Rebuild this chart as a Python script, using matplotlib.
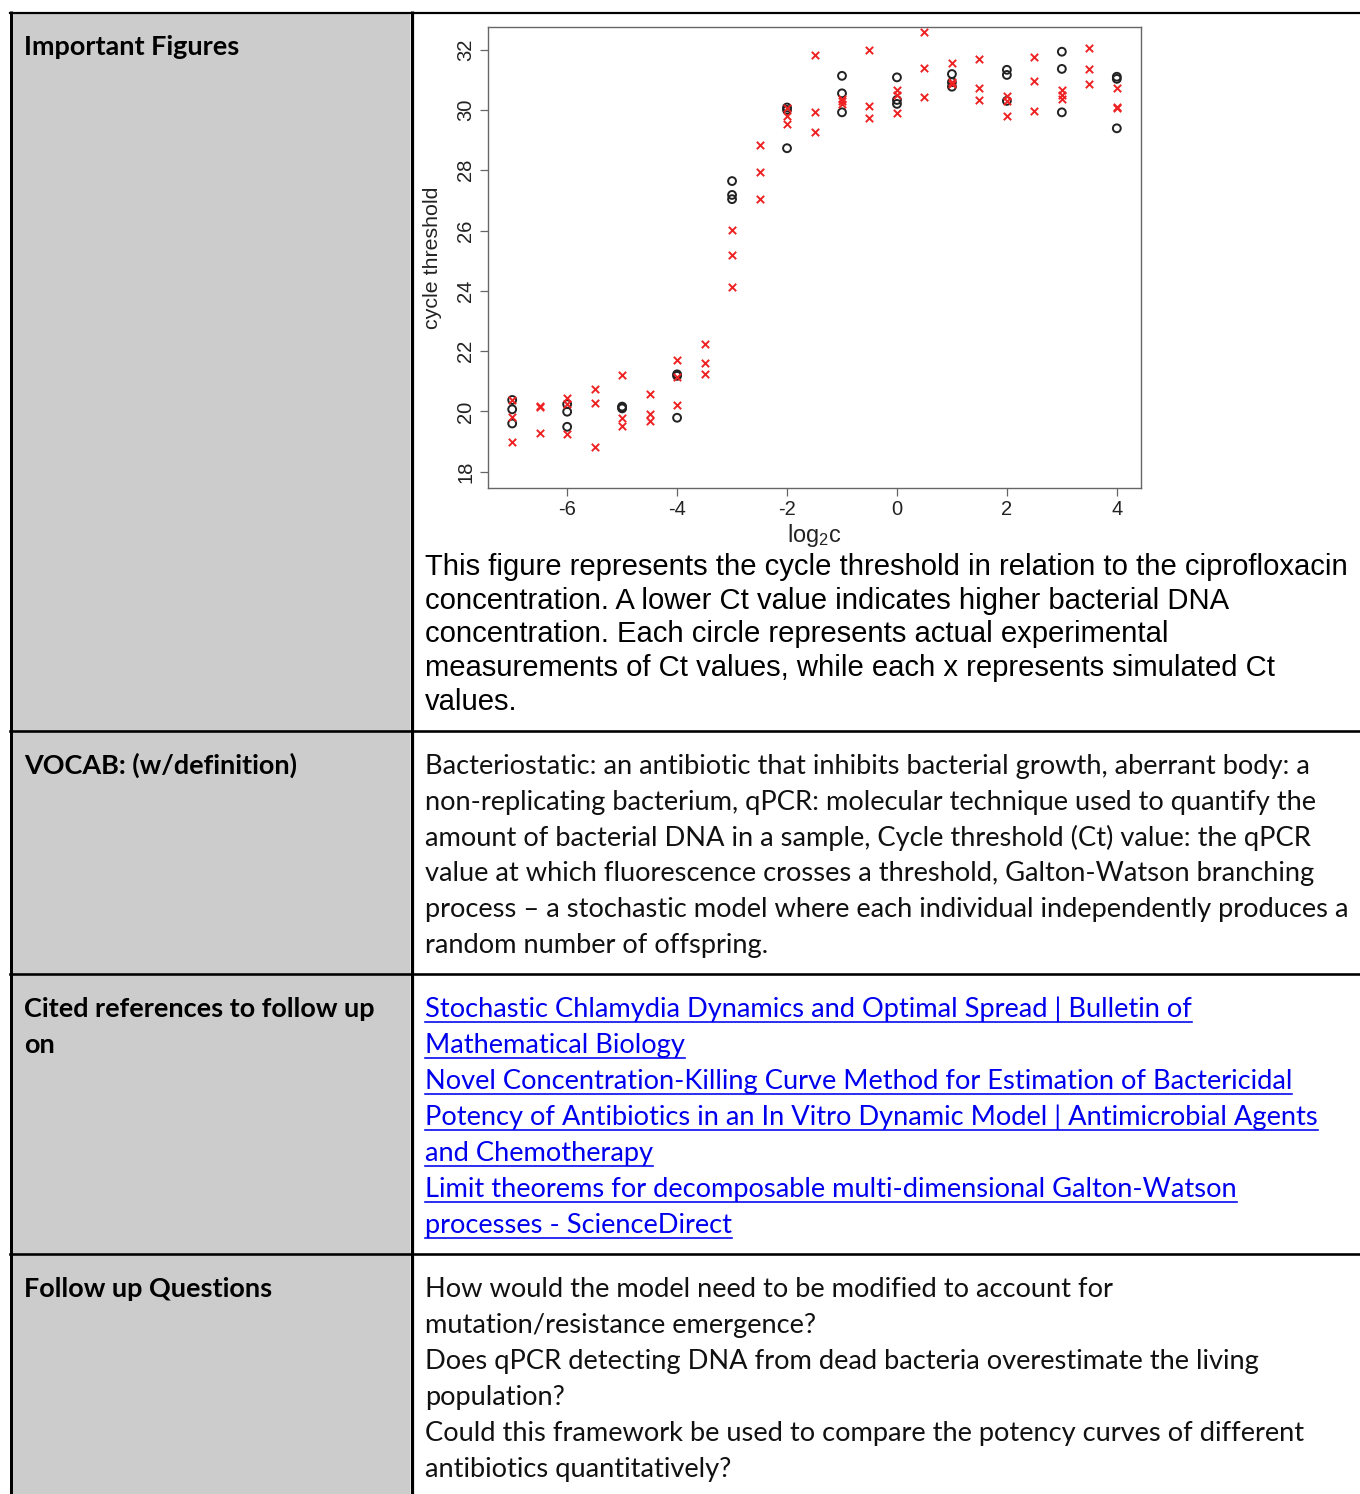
import matplotlib
matplotlib.use("Agg")
import matplotlib.pyplot as plt
from matplotlib.patches import Rectangle

# ---------------- data ----------------
obs_log2c = [-7, -7, -7, -6, -6, -6, -5, -5, -5, -4, -4, -4,
             -3, -3, -3, -2, -2, -2, -1, -1, -1, 0, 0, 0,
             1, 1, 1, 2, 2, 2, 3, 3, 3, 4, 4, 4]
obs_ct = [20.38, 20.07, 19.60, 20.24, 19.99, 19.49, 20.13, 20.10, 20.16,
          21.23, 21.18, 19.79, 27.64, 27.18, 27.04, 30.08, 30.00, 28.73,
          31.13, 30.55, 29.92, 31.08, 30.33, 30.20, 31.19, 30.92, 30.77,
          31.33, 31.16, 30.30, 31.93, 31.36, 29.92, 31.10, 31.03, 29.39]

sim_log2c = [-7, -7, -7, -6.5, -6.5, -6.5, -6, -6, -6, -5.5, -5.5, -5.5,
             -5, -5, -5, -4.5, -4.5, -4.5, -4, -4, -4, -3.5, -3.5, -3.5,
             -3, -3, -3, -2.5, -2.5, -2.5, -2, -2, -2, -1.5, -1.5, -1.5,
             -1, -1, -1, -0.5, -0.5, -0.5, 0, 0, 0, 0.5, 0.5, 0.5,
             1, 1, 1, 1.5, 1.5, 1.5, 2, 2, 2, 2.5, 2.5, 2.5,
             3, 3, 3, 3.5, 3.5, 3.5, 4, 4, 4]
sim_ct = [20.38, 19.80, 18.99, 20.18, 20.15, 19.29, 20.43, 20.24, 19.24,
          20.73, 20.27, 18.83, 21.21, 19.77, 19.52, 20.58, 19.91, 19.69,
          21.70, 21.13, 20.21, 22.24, 21.60, 21.23, 26.02, 25.18, 24.14,
          28.83, 27.94, 27.06, 30.05, 29.81, 29.52, 31.82, 29.94, 29.26,
          30.36, 30.28, 30.19, 31.99, 30.14, 29.72, 30.65, 30.50, 29.89,
          32.58, 31.38, 30.44, 31.55, 30.92, 30.85, 31.68, 30.74, 30.33,
          30.47, 30.30, 29.80, 31.75, 30.97, 29.97, 30.66, 30.50, 30.36,
          32.05, 31.36, 30.85, 30.74, 30.11, 30.08]

x_ticks = [-6, -4, -2, 0, 2, 4]
y_ticks = [18, 20, 22, 24, 26, 28, 30, 32]

row_labels = [["Important Figures"],
              ["VOCAB: (w/definition)"],
              ["Cited references to follow up", "on"],
              ["Follow up Questions"]]

caption_lines = [
    "This figure represents the cycle threshold in relation to the ciprofloxacin",
    "concentration. A lower Ct value indicates higher bacterial DNA",
    "concentration. Each circle represents actual experimental",
    "measurements of Ct values, while each x represents simulated Ct",
    "values.",
]
vocab_lines = [
    "Bacteriostatic: an antibiotic that inhibits bacterial growth, aberrant body: a",
    "non-replicating bacterium, qPCR: molecular technique used to quantify the",
    "amount of bacterial DNA in a sample, Cycle threshold (Ct) value: the qPCR",
    "value at which fluorescence crosses a threshold, Galton-Watson branching",
    "process \u2013 a stochastic model where each individual independently produces a",
    "random number of offspring.",
]
ref_lines = [
    "Stochastic Chlamydia Dynamics and Optimal Spread | Bulletin of",
    "Mathematical Biology",
    "Novel Concentration-Killing Curve Method for Estimation of Bactericidal",
    "Potency of Antibiotics in an In Vitro Dynamic Model | Antimicrobial Agents",
    "and Chemotherapy",
    "Limit theorems for decomposable multi-dimensional Galton-Watson",
    "processes - ScienceDirect",
]
question_lines = [
    "How would the model need to be modified to account for",
    "mutation/resistance emergence?",
    "Does qPCR detecting DNA from dead bacteria overestimate the living",
    "population?",
    "Could this framework be used to compare the potency curves of different",
    "antibiotics quantitatively?",
]

BODY = "Lato"
CAP = "Liberation Sans"
plt.rcParams["mathtext.fontset"] = "custom"
plt.rcParams["mathtext.rm"] = CAP
plt.rcParams["mathtext.it"] = CAP

# ---------------- figure ----------------
W, H = 1360, 1494
DPI = 100
fig = plt.figure(figsize=(W / DPI, H / DPI), dpi=DPI)
renderer = fig.canvas.get_renderer()

bg = fig.add_axes([0, 0, 1, 1])
bg.set_xlim(0, W)
bg.set_ylim(H, 0)
bg.axis("off")


def fit_size(s, family, weight, target):
    t = fig.text(0, 0, s, fontsize=20, family=family, weight=weight)
    w = t.get_window_extent(renderer).width
    t.remove()
    return 20 * target / w


fs_label = fit_size("Important Figures", BODY, "bold", 215)
fs_body = fit_size(vocab_lines[0], BODY, "normal", 888)
fs_cap = fit_size(caption_lines[0], CAP, "normal", 922)

# table structure
px = 72 / DPI  # points per pixel
bg.add_patch(Rectangle((12, 12), 398, H - 12, facecolor="#cccccc", edgecolor="none", zorder=0))
bg.plot([11, 11], [11, H], color="black", lw=3 * px, solid_capstyle="butt", zorder=2)
bg.plot([411.5, 411.5], [11, H], color="black", lw=3.2 * px, solid_capstyle="butt", zorder=2)
bg.plot([9.5, W], [12.5, 12.5], color="black", lw=2.2 * px, zorder=2)
for yy in [730.5, 973.5, 1253.5]:
    bg.plot([9.5, W], [yy, yy], color="black", lw=2.6 * px, zorder=2)

# left labels
label_base = [[55], [774], [1017, 1053], [1297]]
for labs, bases in zip(row_labels, label_base):
    for s, b in zip(labs, bases):
        bg.text(24, b, s, fontsize=fs_label, family=BODY, weight="bold",
                va="baseline", ha="left", color="#000000")

# caption
for i, s in enumerate(caption_lines):
    bg.text(425, 575 + i * 33.75, s, fontsize=fs_cap, family=CAP,
            va="baseline", ha="left", color="black")

# vocab
for i, s in enumerate(vocab_lines):
    bg.text(425, 774 + i * 35.8, s, fontsize=fs_body, family=BODY,
            va="baseline", ha="left", color="#111111")

# references (links, underlined)
fig.canvas.draw()
for i, s in enumerate(ref_lines):
    b = 1017 + i * 36
    t = bg.text(425, b, s, fontsize=fs_body, family=BODY,
                va="baseline", ha="left", color="#0000ee")
    wpx = t.get_window_extent(renderer).width
    bg.plot([425, 425 + wpx], [b + 4.5, b + 4.5], color="#0000ee", lw=1.6 * px)

# questions
for i, s in enumerate(question_lines):
    bg.text(425, 1297 + i * 36, s, fontsize=fs_body, family=BODY,
            va="baseline", ha="left", color="#111111")

# ---------------- scatter plot ----------------
L, T, R, B = 488, 27, 1141, 488
ax = fig.add_axes([L / W, (H - B) / H, (R - L) / W, (B - T) / H])
ax.scatter(obs_log2c, obs_ct, s=32, facecolors="none", edgecolors="#222222",
           linewidths=1.4, marker="o", zorder=3)
ax.scatter(sim_log2c, sim_ct, s=28, c="#ee2222", linewidths=1.4, marker="x", zorder=4)
ax.set_xlim(-7.44, 4.44)
ax.set_ylim(17.46, 32.75)
ax.set_xticks(x_ticks)
ax.set_yticks(y_ticks)
ax.set_xticklabels([str(v) for v in x_ticks], family=CAP, fontsize=14.5)
ax.set_yticklabels([str(v) for v in y_ticks], family=CAP, fontsize=14.5,
                   rotation=90, va="center")
for sp in ax.spines.values():
    sp.set_color("#666666")
    sp.set_linewidth(1.0)
ax.tick_params(axis="both", direction="out", length=5.5, width=0.9, color="#666666",
               labelcolor="#222222")
ax.tick_params(axis="x", pad=3.5)
ax.tick_params(axis="y", pad=3.5)
fs_ax = fit_size("cycle threshold", CAP, "normal", 142)
ax.set_ylabel("cycle threshold", family=CAP, fontsize=fs_ax, color="#222222")
ax.yaxis.set_label_coords(-55 / (R - L), 0.5)
ax.yaxis.label.set_va("center")
ax.set_xlabel("log$_2$c", family=CAP, fontsize=fs_ax * 1.1, color="#222222")
ax.xaxis.set_label_coords(0.5, -48 / (B - T))
ax.xaxis.label.set_va("center")

fig.savefig("out.png", dpi=DPI)
